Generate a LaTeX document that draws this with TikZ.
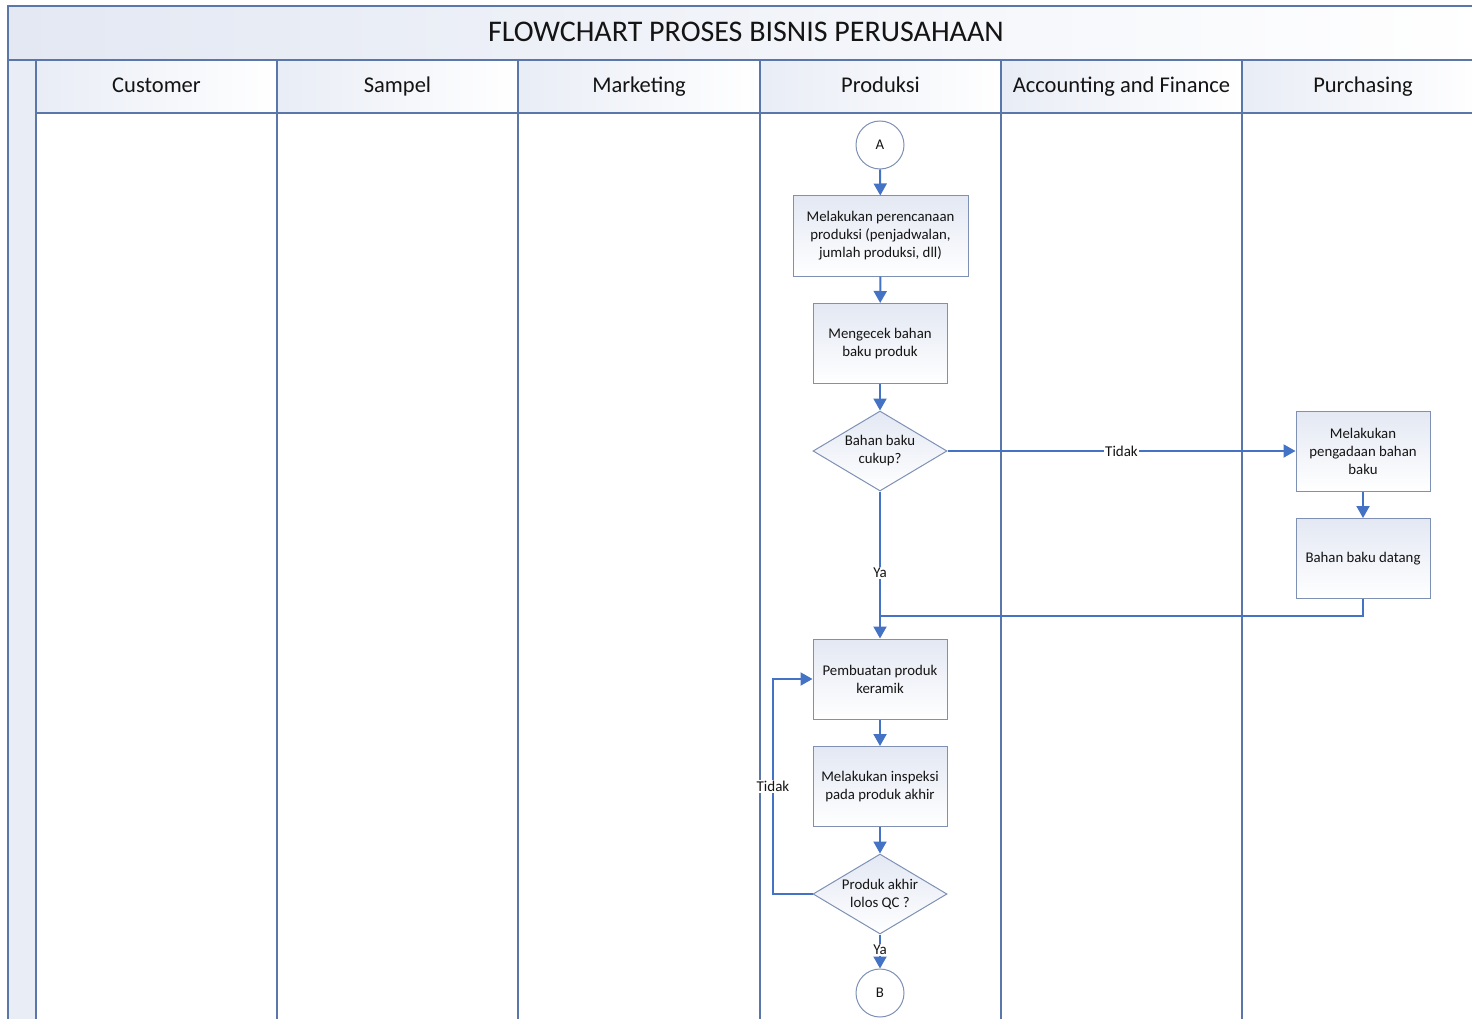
\documentclass[tikz,border=0pt]{standalone}
\usepackage{fontspec}
\setmainfont{Carlito}
\usetikzlibrary{shapes.geometric,arrows.meta}
\definecolor{lanecol}{HTML}{5B76A8}
\definecolor{boxcol}{HTML}{7E91B4}
\definecolor{arrcol}{HTML}{4472C4}
\definecolor{shadecol}{HTML}{E3E8F3}
\definecolor{txtcol}{HTML}{141414}
\tikzset{
  lane/.style={draw=lanecol, line width=1.3pt},
  hdr/.style={font=\fontsize{22.5}{26}\selectfont, text=txtcol, anchor=base},
  proc/.style={draw=boxcol, line width=1pt, top color=shadecol, bottom color=white, minimum width=134pt, minimum height=80pt, align=center, font=\fontsize{14.8}{18}\selectfont, text=txtcol, inner sep=2pt},
  decis/.style={diamond, draw=boxcol, line width=1pt, top color=shadecol, bottom color=white, minimum width=134pt, minimum height=80pt, align=center, font=\fontsize{14.8}{18}\selectfont, text=txtcol, inner sep=0pt, aspect=1.6},
  conn/.style={circle, draw=boxcol, line width=1pt, fill=white, minimum size=48pt, font=\fontsize{14.8}{17}\selectfont, text=txtcol, inner sep=0pt},
  arr/.style={draw=arrcol, line width=2pt, -{Triangle[length=12pt,width=13pt]}},
  ln/.style={draw=arrcol, line width=2pt},
  lbl/.style={fill=white, inner sep=1pt, font=\fontsize{15}{17}\selectfont, text=txtcol}
}
\begin{document}
\begin{tikzpicture}[x=1pt,y=-1pt]
\useasboundingbox (0,0) rectangle (1472,1019);
\clip (0,0) rectangle (1472,1019);
% title band
\shade[left color=shadecol, right color=white] (8,6) rectangle (1490,60);
% header row
\foreach \a/\b in {36/277,277/518,518/760,760/1001,1001/1242,1242/1484}{
  \shade[left color=shadecol!80, right color=white] (\a,60) rectangle (\b,113);
}
% left strip
\fill[shadecol!80] (8,60) rectangle (36,1030);
% frame lines
\draw[lane] (8,1030) -- (8,6) -- (1490,6);
\draw[lane] (8,60) -- (1490,60);
\draw[lane] (36,113) -- (1490,113);
\foreach \x in {36,277,518,760,1001,1242,1484}{
  \draw[lane] (\x,60) -- (\x,1030);
}
% title and headers
\node[font=\fontsize{30}{34}\selectfont, text=txtcol, anchor=base] (title) at (746,42) {FLOWCHART PROSES BISNIS PERUSAHAAN};
\node[hdr] (h1) at (156.5,93) {Customer};
\node[hdr] (h2) at (397.5,93) {Sampel};
\node[hdr] (h3) at (639,93) {Marketing};
\node[hdr] (h4) at (880.5,93) {Produksi};
\node[hdr] (h5) at (1121.5,93) {Accounting and Finance};
\node[hdr] (h6) at (1363,93) {Purchasing};
% nodes
\node[conn] (A) at (880,145) {A};
\node[proc, minimum width=175pt] (b1) at (880.5,236) {Melakukan perencanaan\\produksi (penjadwalan,\\jumlah produksi, dll)};
\node[proc] (b2) at (880,343.5) {Mengecek bahan\\baku produk};
\node[decis] (d1) at (880,451) {Bahan baku\\cukup?};
\node[proc] (p1) at (1363,451) {Melakukan\\pengadaan bahan\\baku};
\node[proc] (p2) at (1363,558.5) {Bahan baku datang};
\node[proc] (b3) at (880,679) {Pembuatan produk\\keramik};
\node[proc] (b4) at (880,786.5) {Melakukan inspeksi\\pada produk akhir};
\node[decis] (d2) at (880,894) {Produk akhir\\lolos QC ?};
\node[conn] (B) at (880,993) {B};
\coordinate (join) at (880,616);
\coordinate (loop) at (773,894);
% connectors
\draw[arr] (A) -- (b1);
\draw[arr] (b1) -- (b2);
\draw[arr] (b2) -- (d1);
\draw[arr] (d1.east) -- node[lbl]{Tidak} (p1.west);
\draw[arr] (p1) -- (p2);
\draw[ln] (p2.south) |- (join);
\draw[arr] (d1.south) -- node[lbl, pos=0.555]{Ya} (b3.north);
\draw[arr] (b3) -- (b4);
\draw[arr] (b4) -- (d2);
\draw[arr] (d2.west) -- (loop) |- node[lbl, pos=0.25]{Tidak} (b3.west);
\draw[arr] (d2.south) -- node[lbl, pos=0.45]{Ya} (B);
\end{tikzpicture}
\end{document}
